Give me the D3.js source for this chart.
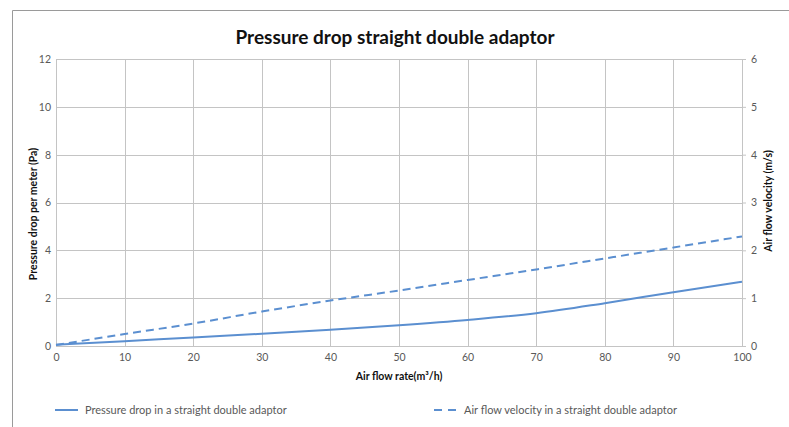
<!DOCTYPE html>
<html>
<head>
<meta charset="utf-8">
<script src="https://cdn.jsdelivr.net/npm/d3@7"></script>
<style>
  html, body { margin: 0; padding: 0; background: #fff; }
  svg { display: block; font-family: "Lato", "Noto Sans", sans-serif; }
</style>
</head>
<body>
<svg id="chart" width="789" height="427"></svg>
<script>
// Air flow rate (m³/h)
const flowRates = [0, 10, 20, 30, 40, 50, 60, 70, 80, 90, 100];
// Pressure drop per meter (Pa), left axis
const pressureDrop = [0.05, 0.20, 0.36, 0.51, 0.68, 0.87, 1.09, 1.37, 1.79, 2.25, 2.69];
// Air flow velocity (m/s), right axis
const velocity = [0.02, 0.25, 0.47, 0.72, 0.95, 1.16, 1.38, 1.60, 1.83, 2.06, 2.29];

const xTicks = [0, 10, 20, 30, 40, 50, 60, 70, 80, 90, 100];
const leftTicks = [0, 2, 4, 6, 8, 10, 12];
const rightTicks = [0, 1, 2, 3, 4, 5, 6];

const titleText = "Pressure drop straight double adaptor";
const xTitle = "Air flow rate(m³/h)";
const leftTitle = "Pressure drop per meter (Pa)";
const rightTitle = "Air flow velocity (m/s)";
const seriesNames = ["Pressure drop in a straight double adaptor", "Air flow velocity in a straight double adaptor"];

const lineColor = "#5b8fd0";
const gridColor = "#c4c4c4";
const textColor = "#595959";

const svg = d3.select("#chart");
const plot = { left: 56, right: 742, top: 59, bottom: 346 };

const x = d3.scaleLinear().domain([0, 100]).range([plot.left, plot.right]);
const yL = d3.scaleLinear().domain([0, 12]).range([plot.bottom, plot.top]);
const yR = d3.scaleLinear().domain([0, 6]).range([plot.bottom, plot.top]);

// outer frame (top and left edges)
svg.append("path")
  .attr("d", "M12.5,427 L12.5,10.5 L789,10.5")
  .attr("fill", "none").attr("stroke", "#9a9a9a").attr("stroke-width", 1);

// title
svg.append("text")
  .attr("x", 395).attr("y", 44)
  .attr("text-anchor", "middle")
  .attr("font-size", 19).attr("font-weight", "bold").attr("fill", "#111")
  .text(titleText);

// grid
const grid = svg.append("g").attr("stroke", gridColor).attr("stroke-width", 1);
grid.selectAll("line.h").data(leftTicks).join("line")
  .attr("x1", plot.left).attr("x2", plot.right)
  .attr("y1", d => Math.round(yL(d)) + 0.5).attr("y2", d => Math.round(yL(d)) + 0.5);
grid.selectAll("line.v").data(xTicks).join("line")
  .attr("y1", plot.top).attr("y2", plot.bottom)
  .attr("x1", d => Math.round(x(d)) + 0.5).attr("x2", d => Math.round(x(d)) + 0.5);

// axes
const styleAxis = g => {
  g.select(".domain").attr("stroke", gridColor);
  g.selectAll(".tick line").attr("stroke", gridColor);
  g.selectAll(".tick text").attr("fill", textColor).attr("font-size", 10.5);
  g.attr("font-family", null);
};

svg.append("g")
  .attr("transform", `translate(0,${plot.bottom})`)
  .call(d3.axisBottom(x).tickValues(xTicks).tickFormat(d3.format("d")).tickSize(0).tickPadding(8))
  .call(styleAxis);

svg.append("g")
  .attr("transform", `translate(${plot.left},0)`)
  .call(d3.axisLeft(yL).tickValues(leftTicks).tickFormat(d3.format("d")).tickSize(0).tickPadding(5))
  .call(styleAxis);

svg.append("g")
  .attr("transform", `translate(${plot.right},0)`)
  .call(d3.axisRight(yR).tickValues(rightTicks).tickFormat(d3.format("d")).tickSize(4).tickPadding(5))
  .call(styleAxis);

// axis titles
svg.append("text")
  .attr("x", x(50)).attr("y", 380)
  .attr("text-anchor", "middle").attr("font-size", 10.5).attr("font-weight", "bold").attr("fill", "#111")
  .text(xTitle);

svg.append("text")
  .attr("transform", "translate(37,214) rotate(-90)")
  .attr("text-anchor", "middle").attr("font-size", 10.5).attr("font-weight", "bold").attr("fill", "#111")
  .text(leftTitle);

svg.append("text")
  .attr("transform", "translate(772,201) rotate(-90)")
  .attr("text-anchor", "middle").attr("font-size", 10.5).attr("font-weight", "bold").attr("fill", "#111")
  .text(rightTitle);

// series
const pressureLine = d3.line()
  .x((d, i) => x(flowRates[i])).y(d => yL(d))
  .curve(d3.curveMonotoneX);
const velocityLine = d3.line()
  .x((d, i) => x(flowRates[i])).y(d => yR(d))
  .curve(d3.curveMonotoneX);

svg.append("path")
  .datum(pressureDrop)
  .attr("d", pressureLine)
  .attr("fill", "none").attr("stroke", lineColor).attr("stroke-width", 2);

svg.append("path")
  .datum(velocity)
  .attr("d", velocityLine)
  .attr("fill", "none").attr("stroke", lineColor).attr("stroke-width", 2)
  .attr("stroke-dasharray", "8,5");

// legend
const legend = svg.append("g");
const legendItems = [
  { name: seriesNames[0], x0: 55, dash: null },
  { name: seriesNames[1], x0: 434, dash: "8,6" }
];
legendItems.forEach(it => {
  legend.append("line")
    .attr("x1", it.x0).attr("x2", it.x0 + 23)
    .attr("y1", 410).attr("y2", 410)
    .attr("stroke", lineColor).attr("stroke-width", 2)
    .attr("stroke-dasharray", it.dash);
  legend.append("text")
    .attr("x", it.x0 + 30).attr("y", 414)
    .attr("font-size", 11).attr("fill", textColor)
    .text(it.name);
});
</script>
</body>
</html>
